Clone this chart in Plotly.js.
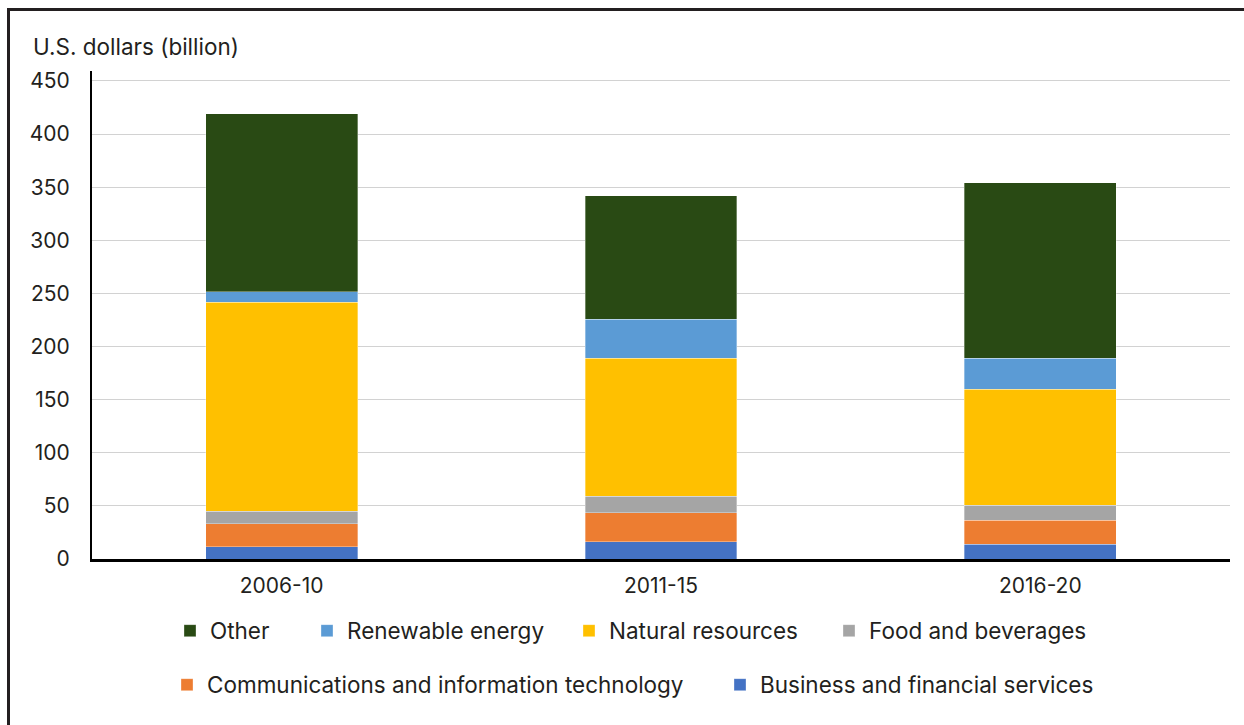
<!DOCTYPE html>
<html>
<head>
<meta charset="utf-8">
<script src="https://cdn.plot.ly/plotly-3.0.1.min.js"></script>
<style>
  html, body { margin: 0; padding: 0; background: #fff; }
  #chart { width: 1244px; height: 725px; }
</style>
</head>
<body>
<div id="chart"></div>
<script>
// ---- Data (U.S. dollars, billion) ----
var categories = ['2006-10', '2011-15', '2016-20'];
var business   = [11.6, 16.3, 13.8];
var comm       = [21.4, 27.3, 22.6];
var food       = [11.9, 15.7, 14.1];
var natural    = [196.7, 129.9, 109.2];
var renewable  = [9.8, 36.4, 29.5];
var other      = [167.6, 116.4, 165.1];
var yTicks     = [0, 50, 100, 150, 200, 250, 300, 350, 400, 450];

var FONT = 'Inter, "Noto Sans", Roboto, sans-serif';
var TXT = '#231f20';

// plot-area pixel geometry (for converting legend/frame pixel positions to paper coords)
var L = 92, R = 14, T = 71, B = 166, W = 1244, H = 725;
var pw = W - L - R, ph = H - T - B;
function px(x) { return (x - L) / pw; }
function py(y) { return (H - B - y) / ph; }

function bar(name, vals, color, legendId) {
  return {
    type: 'bar', name: name, x: categories, y: vals,
    marker: { color: color, line: { color: 'rgba(255,255,255,0.55)', width: 0.6 } },
    legend: legendId, showlegend: true, hoverinfo: 'x+y+name'
  };
}

var data = [
  bar('Business and financial services', business, '#4472c4', 'legend6'),
  bar('Communications and information technology', comm, '#ed7d31', 'legend5'),
  bar('Food and beverages', food, '#a5a5a5', 'legend4'),
  bar('Natural resources', natural, '#ffc000', 'legend3'),
  bar('Renewable energy', renewable, '#5b9bd5', 'legend2'),
  bar('Other', other, '#294a14', 'legend')
];

function leg(textX, rowY) {
  return {
    orientation: 'h', x: px(textX - 40), xanchor: 'left',
    y: py(rowY), yanchor: 'middle',
    font: { family: FONT, size: 22.5, color: TXT },
    bgcolor: 'rgba(0,0,0,0)', borderwidth: 0
  };
}

var layout = {
  width: W, height: H,
  margin: { l: L, r: R, t: T, b: B },
  paper_bgcolor: '#fff', plot_bgcolor: '#fff',
  font: { family: FONT, size: 21, color: TXT },
  barmode: 'stack',
  bargap: 0.6,
  showlegend: true,
  title: {
    text: 'U.S. dollars (billion)',
    x: 33 / W, xref: 'container', xanchor: 'left',
    y: 1 - 47 / H, yref: 'container', yanchor: 'middle',
    font: { family: FONT, size: 22.5, color: TXT }
  },
  xaxis: {
    type: 'category',
    showline: true, linecolor: '#000', linewidth: 3,
    showgrid: false, ticks: '', ticklabelstandoff: 6,
    tickfont: { family: FONT, size: 21, color: TXT }
  },
  yaxis: {
    range: [0, 459.4], tickvals: yTicks,
    showline: true, linecolor: '#000', linewidth: 2,
    showgrid: true, gridcolor: '#d2d2d2', gridwidth: 1,
    zeroline: false, ticks: '', ticklabelstandoff: 16,
    tickfont: { family: FONT, size: 21, color: TXT }
  },
  legend: leg(210, 631),
  legend2: leg(347, 631),
  legend3: leg(609, 631),
  legend4: leg(869, 631),
  legend5: leg(207, 685),
  legend6: leg(760, 685),
  shapes: [{
    type: 'path', xref: 'paper', yref: 'paper',
    path: 'M ' + px(8.5) + ',' + py(735) + ' L ' + px(8.5) + ',' + py(9.5) + ' L ' + px(1260) + ',' + py(9.5),
    line: { color: '#231f20', width: 3 }, layer: 'above'
  }]
};

Plotly.newPlot('chart', data, layout, { displayModeBar: false, staticPlot: true });
</script>
</body>
</html>
